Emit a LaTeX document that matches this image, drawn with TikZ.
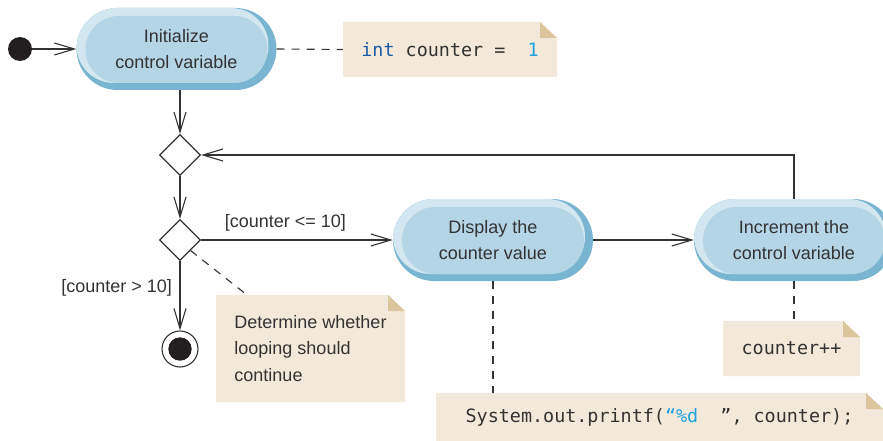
\documentclass[tikz,border=0pt]{standalone}
\usepackage{fontspec}
\setmainfont{Liberation Sans}
\newfontfamily\codefont{DejaVu Sans Mono}
\usetikzlibrary{arrows.meta,calc,shapes.geometric}
\definecolor{ink}{HTML}{333333}
\definecolor{dot}{HTML}{231F20}
\definecolor{actdark}{HTML}{79B5D1}
\definecolor{actlight}{HTML}{D3E7F1}
\definecolor{actfill}{HTML}{B3D5E6}
\definecolor{notefill}{HTML}{F3E9DB}
\definecolor{notefold}{HTML}{DCC49C}
\definecolor{kw}{HTML}{1B5CA3}
\definecolor{lit}{HTML}{22A2DC}
\newcommand\ppb{path picture bounding box}
\newcommand\mainfnt{\fontsize{18}{26.5}\selectfont}
\newcommand\codefnt{\codefont\fontsize{18.4}{22}\selectfont}
\begin{document}
\begin{tikzpicture}[x=1pt,y=-1pt,
  every node/.style={text=ink},
  activity/.style={rectangle, rounded corners=41pt, fill=actdark,
    minimum width=200pt, minimum height=82pt, inner sep=0pt,
    align=center, font=\mainfnt,
    execute at begin node={\rule{0pt}{19pt}},
    path picture={
      \fill[actlight, rounded corners=37.5pt] ($(\ppb.south west)+(0pt,7pt)$) rectangle ($(\ppb.north east)+(-8pt,0pt)$);
      \fill[actfill, rounded corners=33.5pt] ($(\ppb.south west)+(9pt,7pt)$) rectangle ($(\ppb.north east)+(-9pt,-8pt)$);
    }},
  note/.style={rectangle, sharp corners, inner sep=0pt,
    path picture={
      \fill[notefill] (\ppb.north west) -- ($(\ppb.north east)+(-17pt,0pt)$) -- ($(\ppb.north east)+(0pt,-16pt)$) -- (\ppb.south east) -- (\ppb.south west) -- cycle;
      \fill[notefold] ($(\ppb.north east)+(-17pt,0pt)$) -- ($(\ppb.north east)+(-17pt,-16pt)$) -- ($(\ppb.north east)+(0pt,-16pt)$) -- cycle;
    }},
  branch/.style={diamond, draw=ink, line width=1.1pt, fill=white,
    minimum width=41pt, minimum height=41pt, inner sep=0pt},
  initial/.style={circle, fill=dot, minimum size=24pt, inner sep=0pt},
  final/.style={circle, draw=ink, line width=1.1pt, minimum size=36pt, inner sep=0pt,
    path picture={\fill[dot] (\ppb.center) circle (11.7pt);}},
  flow/.style={draw=ink, line width=1.1pt, -{Straight Barb[length=20pt,width=12pt]}},
  link/.style={draw=ink, line width=1.1pt, dash pattern=on 8pt off 7pt},
  guard/.style={font=\mainfnt, inner sep=3pt}
]
\useasboundingbox (0,0) rectangle (883,441);
\clip (0,0) rectangle (883,441);

% nodes
\node[initial] (start) at (20,49) {};
\node[activity] (init) at (176.5,49) {Initialize\\control variable};
\node[note, minimum width=214pt, minimum height=55pt, font=\codefnt] (n1) at (450,49.5)
  {\textcolor{kw}{int} counter =\ \ \textcolor{lit}{1}};
\node[branch] (merge) at (180,155) {};
\node[branch] (dec) at (180,240) {};
\node[final] (end) at (180,349) {};
\node[activity] (disp) at (493,240) {Display the\\counter value};
\node[activity] (inc) at (794,240) {Increment the\\control variable};
\node[note, minimum width=189pt, minimum height=107pt, align=left, font=\mainfnt] (n2) at (310.5,348.5)
  {Determine whether\\looping should\\continue};
\node[note, minimum width=447pt, minimum height=48pt, font=\codefnt] (n3) at (659.5,417)
  {System.out.printf(\textcolor{lit}{“\%d}\ \ ”, counter);};
\node[note, minimum width=137pt, minimum height=55pt, font=\codefnt] (n4) at (791.5,348.5) {counter++};

% control flow
\draw[flow] (start) -- (init);
\draw[flow] (merge.north |- init.south) -- (merge.north);
\draw[flow] (merge.south) -- (dec.north);
\draw[flow] (dec.east) -- node[guard, above, pos=0.44, yshift=5pt] {[counter <= 10]} (disp.west);
\draw[flow] (dec.south) -- node[guard, left, pos=0.39, xshift=-4.5pt] {[counter > 10]} (end.north);
\draw[flow] (disp.east) -- (inc.west);
\draw[flow] (inc.north) |- (merge.east);

% note links
\draw[link] (init.east) -- (n1.west);
\draw[link] ($(dec.east)!0.5!(dec.south)$) -- ($(n2.north west)+(31pt,0pt)$);
\draw[link] (disp.south) -- (disp.south |- n3.north);
\draw[link] (inc.south) -- (inc.south |- n4.north);
\end{tikzpicture}
\end{document}
